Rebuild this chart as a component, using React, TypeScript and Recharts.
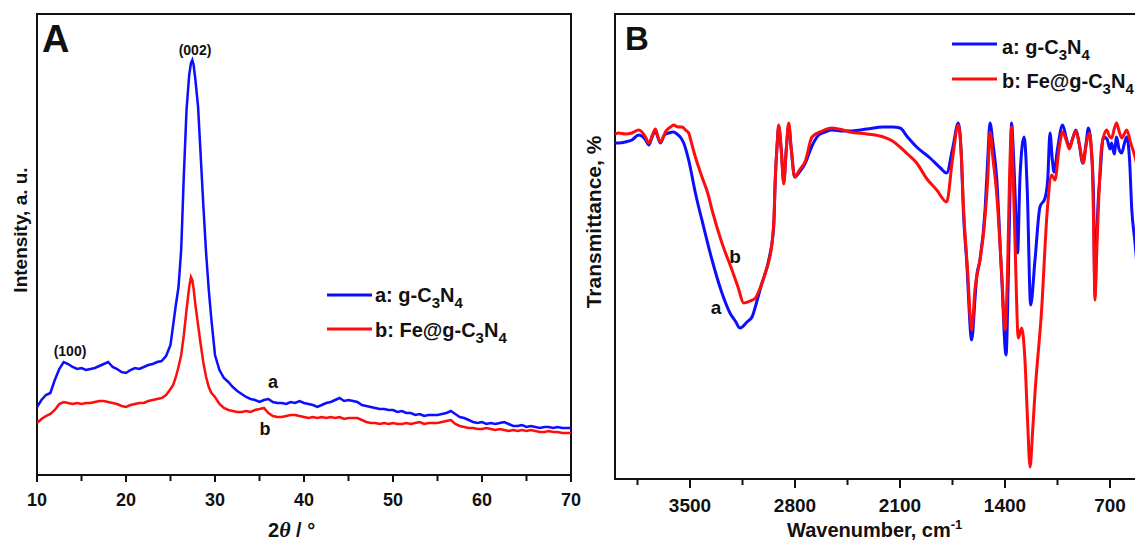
import { LineChart, Line, XAxis, YAxis, ReferenceArea } from 'recharts'

const FONT = '"Liberation Sans", Arial, Helvetica, sans-serif'
const SERIF = '"Liberation Serif", "DejaVu Serif", serif'
const INK = '#111'
const BLUE = '#0d0dff'
const RED = '#ff0d0d'

// XRD patterns, 2θ in degrees, intensity in arbitrary units
const xrdAngle = [
  10, 10.5, 11, 11.5, 12, 12.5, 13, 13.5, 14, 14.5, 15, 15.5, 16, 16.5, 17, 17.5, 18, 18.5, 19, 19.5,
  20, 20.5, 21, 21.5, 22, 22.5, 23, 23.5, 24, 24.5,
  25, 25.3, 25.6, 25.9, 26.2, 26.5, 26.8, 27.1, 27.3, 27.45, 27.6, 27.8, 28.1, 28.4, 28.7, 29, 29.3, 29.6,
  30, 30.5, 31, 31.5, 32, 32.5, 33, 33.5, 34, 34.5, 35, 35.5, 36, 36.5, 37, 37.5, 38, 38.5, 39, 39.5,
  40, 40.5, 41, 41.5, 42, 42.5, 43, 43.5, 44, 44.5, 45, 45.5, 46, 46.5, 47, 47.5, 48, 48.5, 49, 49.5,
  50, 50.5, 51, 51.5, 52, 52.5, 53, 53.5, 54, 54.5, 55, 55.5, 56, 56.5, 57, 57.5, 58, 58.5, 59, 59.5,
  60, 60.5, 61, 61.5, 62, 62.5, 63, 63.5, 64, 64.5, 65, 65.5, 66, 66.5, 67, 67.5, 68, 68.5, 69, 69.5, 70,
]
const xrdBare = [
  68, 75, 80, 82, 95, 106, 113, 111, 108, 106, 107, 105, 106, 107, 109, 111, 113, 108, 106, 103,
  102, 105, 107, 106, 108, 110, 111, 113, 114, 119,
  130, 150, 170, 188, 225, 300, 365, 400, 412, 415, 410, 395, 368, 318, 268, 222, 185, 155,
  120, 105, 97, 93, 88, 84, 81, 78, 76, 75, 73, 75, 76, 73, 72, 72, 71, 73, 72, 74,
  72, 71, 70, 68, 70, 72, 73, 75, 77, 74, 75, 74, 73, 70, 69, 68, 67, 66, 66, 65,
  65, 63, 64, 62, 62, 60, 61, 59, 60, 60, 60, 61, 62, 64, 61, 58, 57, 55, 53, 52,
  53, 51, 52, 51, 52, 53, 51, 49, 49, 50, 48, 49, 48, 47, 48, 48, 47, 48, 47, 47, 47,
]
const xrdFe = [
  52, 56, 59, 61, 65, 71, 73, 72, 71, 72, 71, 72, 72, 73, 74, 74, 73, 72, 71, 69,
  68, 70, 71, 72, 72, 74, 75, 76, 77, 80,
  86, 90, 98, 108, 120, 140, 165, 188, 198, 195, 186, 170, 150, 130, 112, 98, 88, 82,
  78, 71, 67, 65, 64, 63, 63, 64, 63, 65, 66, 67, 62, 59, 58, 58, 59, 60, 60, 59,
  58, 57, 58, 57, 58, 57, 58, 57, 58, 56, 57, 57, 57, 55, 53, 52, 52, 51, 52, 51,
  52, 51, 51, 52, 51, 52, 53, 51, 52, 52, 52, 53, 54, 55, 51, 49, 48, 47, 47, 46,
  46, 47, 46, 45, 46, 45, 44, 45, 44, 45, 44, 45, 44, 43, 43, 44, 43, 43, 42, 42, 42,
]

// FTIR spectra, wavenumber in cm-1, transmittance in arbitrary units
const ftirBareWave = [
  4000, 3975, 3930, 3887, 3842, 3800, 3775, 3750, 3731, 3715, 3698, 3670, 3642, 3610, 3587, 3560, 3542, 3509,
  3464, 3409, 3353, 3287, 3230, 3198, 3167, 3120, 3087, 3050, 3020, 2975, 2942, 2931, 2920, 2909, 2892, 2875,
  2858, 2842, 2825, 2802, 2770, 2731, 2690, 2642, 2600, 2553, 2480, 2420, 2320, 2211, 2150, 2100, 2050, 1989,
  1900, 1830, 1789, 1750, 1711, 1690, 1678, 1656, 1622, 1600, 1589, 1567, 1533, 1515, 1500, 1480, 1456, 1422,
  1393, 1378, 1365, 1356, 1345, 1333, 1316, 1300, 1273, 1260, 1251, 1229, 1200, 1167, 1133, 1115, 1100, 1085,
  1073, 1050, 1016, 990, 971, 950, 927, 905, 882, 860, 844, 825, 811, 800, 790, 778, 767, 744, 720, 700, 689,
  672, 656, 640, 622, 605, 589, 570, 555, 533, 515,
]
const ftirBare = [
  336, 336, 337, 339, 344, 340, 334, 343, 348, 342, 336, 344, 346, 347, 345, 341, 336, 319,
  286, 252, 219, 186, 165, 158, 151, 157, 162, 180, 196, 219, 252, 302, 332, 352, 330, 297,
  330, 354, 330, 302, 307, 316, 332, 344, 347, 349, 348, 348, 350, 352, 352, 351, 342, 332,
  321, 311, 306, 330, 356, 320, 269, 219, 139, 180, 202, 219, 269, 320, 356, 335, 302, 202,
  124, 202, 300, 356, 330, 286, 226, 302, 342, 320, 286, 174, 219, 272, 281, 300, 346, 320,
  307, 330, 354, 340, 332, 340, 349, 335, 316, 335, 351, 330, 290, 185, 235, 280, 302, 342, 340, 330, 336,
  325, 342, 330, 326, 335, 342, 320, 270, 236, 205,
]
const ftirFeWave = [
  4000, 3975, 3930, 3887, 3842, 3800, 3775, 3750, 3731, 3715, 3698, 3660, 3630, 3609, 3580, 3553, 3530, 3509,
  3490, 3464, 3420, 3380, 3353, 3287, 3220, 3180, 3142, 3100, 3064, 3030, 2998, 2953, 2940, 2931, 2920, 2909,
  2892, 2875, 2858, 2842, 2825, 2802, 2770, 2731, 2687, 2620, 2553, 2480, 2433, 2320, 2211, 2150, 2100, 2050,
  1989, 1920, 1855, 1789, 1750, 1711, 1690, 1678, 1650, 1622, 1600, 1567, 1540, 1515, 1500, 1480, 1456, 1420,
  1400, 1384, 1370, 1356, 1345, 1333, 1311, 1289, 1267, 1250, 1233, 1215, 1200, 1156, 1118, 1089, 1067, 1040,
  1016, 990, 971, 950, 927, 905, 878, 858, 838, 820, 811, 800, 790, 778, 756, 722, 705, 689, 672, 656, 640,
  622, 605, 589, 560, 533, 515,
]
const ftirFe = [
  345, 346, 345, 346, 349, 343, 336, 344, 350, 343, 337, 348, 352, 354, 352, 352, 349, 346,
  336, 322, 302, 285, 269, 236, 209, 192, 176, 178, 181, 192, 206, 236, 262, 302, 332, 354,
  330, 295, 330, 356, 330, 302, 309, 318, 342, 348, 351, 349, 347, 345, 342, 338, 332, 325,
  316, 300, 289, 277, 320, 354, 320, 276, 210, 149, 190, 219, 250, 300, 347, 320, 286, 200,
  149, 202, 300, 352, 300, 236, 141, 151, 119, 60, 12, 50, 86, 169, 269, 304, 299, 330,
  347, 338, 330, 340, 348, 335, 316, 335, 346, 320, 269, 179, 220, 269, 332, 349, 343, 341, 350, 356, 348,
  341, 345, 349, 335, 322, 310,
]

const xrdTicks = [10, 15, 20, 25, 30, 35, 40, 45, 50, 55, 60, 65, 70]
const xrdLabels = [10, 20, 30, 40, 50, 60, 70]
const ftirTicks = [3850, 3500, 3150, 2800, 2450, 2100, 1750, 1400, 1050, 700]
const ftirLabels = [3500, 2800, 2100, 1400, 700]

const xrdRows = xrdAngle.map((angle, i) => ({ angle, bare: xrdBare[i], fe: xrdFe[i] }))
const ftirBareRows = ftirBareWave.map((wave, i) => ({ wave, t: ftirBare[i] }))
const ftirFeRows = ftirFeWave.map((wave, i) => ({ wave, t: ftirFe[i] }))

// tick line + label drawn together so major/minor ticks can differ in length
function axisTick(labels: number[], major: number, minor: number, dy: number, size: number) {
  // eslint-disable-next-line @typescript-eslint/no-explicit-any
  return ({ x, y, payload }: any) => {
    const isMajor = labels.includes(payload.value)
    return (
      <g>
        <line x1={x} x2={x} y1={y} y2={y + (isMajor ? major : minor)} stroke={INK} strokeWidth={2} />
        {isMajor && (
          <text x={x} y={y + dy} textAnchor="middle" fontFamily={FONT} fontWeight="bold" fontSize={size} fill={INK}>
            {payload.value}
          </text>
        )}
      </g>
    )
  }
}

function Formula({ x, y, lead, size }: { x: number; y: number; lead: string; size: number }) {
  const drop = size * 0.3
  return (
    <text x={x} y={y} fontSize={size}>
      {lead}g-C
      <tspan dy={drop} fontSize={size * 0.75}>3</tspan>
      <tspan dy={-drop}>N</tspan>
      <tspan dy={drop} fontSize={size * 0.75}>4</tspan>
    </text>
  )
}

export default function App() {
  return (
    <div style={{ position: 'absolute', left: 0, top: 0, width: 1135, height: 541, overflow: 'hidden', background: '#fff' }}>
      <div style={{ position: 'absolute', left: 0, top: 0 }}>
        <LineChart width={600} height={541} data={xrdRows} margin={{ top: 14, right: 29, bottom: 36, left: 37 }}>
          <XAxis type="number" dataKey="angle" domain={[10, 70]} ticks={xrdTicks} interval={0} height={30}
            tickSize={0} tickMargin={0} tickLine={false} tick={axisTick(xrdLabels, 7, 6, 31, 18)}
            axisLine={{ stroke: INK, strokeWidth: 2 }} allowDataOverflow />
          <YAxis type="number" domain={[0, 461]} width={0} tick={false} tickLine={false}
            axisLine={{ stroke: INK, strokeWidth: 2 }} allowDataOverflow />
          <ReferenceArea x1={10} x2={70} y1={0} y2={461} fill="none" stroke={INK} strokeWidth={2} />
          <Line type="linear" dataKey="bare" stroke={BLUE} strokeWidth={2.5} dot={false} isAnimationActive={false} />
          <Line type="linear" dataKey="fe" stroke={RED} strokeWidth={2.5} dot={false} isAnimationActive={false} />
        </LineChart>
      </div>
      <div style={{ position: 'absolute', left: 560, top: 0 }}>
        <LineChart width={610} height={541} margin={{ top: 14, right: 30, bottom: 32, left: 55 }}>
          <XAxis type="number" dataKey="wave" domain={[500, 4000]} reversed ticks={ftirTicks} interval={0} height={30}
            tickSize={0} tickMargin={0} tickLine={false} tick={axisTick(ftirLabels, 9, 6, 33, 19)}
            axisLine={{ stroke: INK, strokeWidth: 2 }} allowDataOverflow />
          <YAxis type="number" dataKey="t" domain={[0, 465]} width={0} tick={false} tickLine={false}
            axisLine={{ stroke: INK, strokeWidth: 2.5 }} allowDataOverflow />
          <ReferenceArea x1={4000} x2={500} y1={0} y2={465} fill="none" stroke={INK} strokeWidth={2} />
          <Line data={ftirBareRows} type="monotone" dataKey="t" stroke={BLUE} strokeWidth={3} dot={false} isAnimationActive={false} />
          <Line data={ftirFeRows} type="monotone" dataKey="t" stroke={RED} strokeWidth={3} dot={false} isAnimationActive={false} />
        </LineChart>
      </div>
      <svg width={1135} height={541} style={{ position: 'absolute', left: 0, top: 0, pointerEvents: 'none' }}
        fontFamily={FONT} fontWeight="bold" fill={INK}>
        <text x={42} y={52} fontSize={38}>A</text>
        <text x={195} y={55} fontSize={14} textAnchor="middle">(002)</text>
        <text x={70} y={356} fontSize={14} textAnchor="middle">(100)</text>
        <text x={273} y={388} fontSize={18} textAnchor="middle">a</text>
        <text x={265} y={435} fontSize={18} textAnchor="middle">b</text>
        <line x1={327} x2={372} y1={295} y2={295} stroke={BLUE} strokeWidth={3} />
        <Formula x={375} y={302} lead="a: " size={20} />
        <line x1={327} x2={372} y1={329} y2={329} stroke={RED} strokeWidth={3} />
        <Formula x={375} y={337} lead="b: Fe@" size={20} />
        <text x={268} y={537} fontSize={20}>
          2<tspan fontFamily={SERIF} fontStyle="italic" fontSize={22}>θ</tspan> / °
        </text>
        <text transform="translate(27 230) rotate(-90)" textAnchor="middle" fontSize={19}>Intensity, a. u.</text>

        <text x={625} y={50} fontSize={33}>B</text>
        <text x={735} y={263} fontSize={19} textAnchor="middle">b</text>
        <text x={716} y={314} fontSize={19} textAnchor="middle">a</text>
        <line x1={952} x2={997} y1={44} y2={44} stroke={BLUE} strokeWidth={3} />
        <Formula x={1002} y={54} lead="a: " size={20} />
        <line x1={952} x2={997} y1={79} y2={79} stroke={RED} strokeWidth={3} />
        <Formula x={1002} y={88} lead="b: Fe@" size={20} />
        <text x={787} y={537} fontSize={20}>Wavenumber, cm<tspan fontSize={13} dy={-8}>-1</tspan></text>
        <text transform="translate(601 222) rotate(-90)" textAnchor="middle" fontSize={21}>Transmittance, %</text>
      </svg>
    </div>
  )
}
